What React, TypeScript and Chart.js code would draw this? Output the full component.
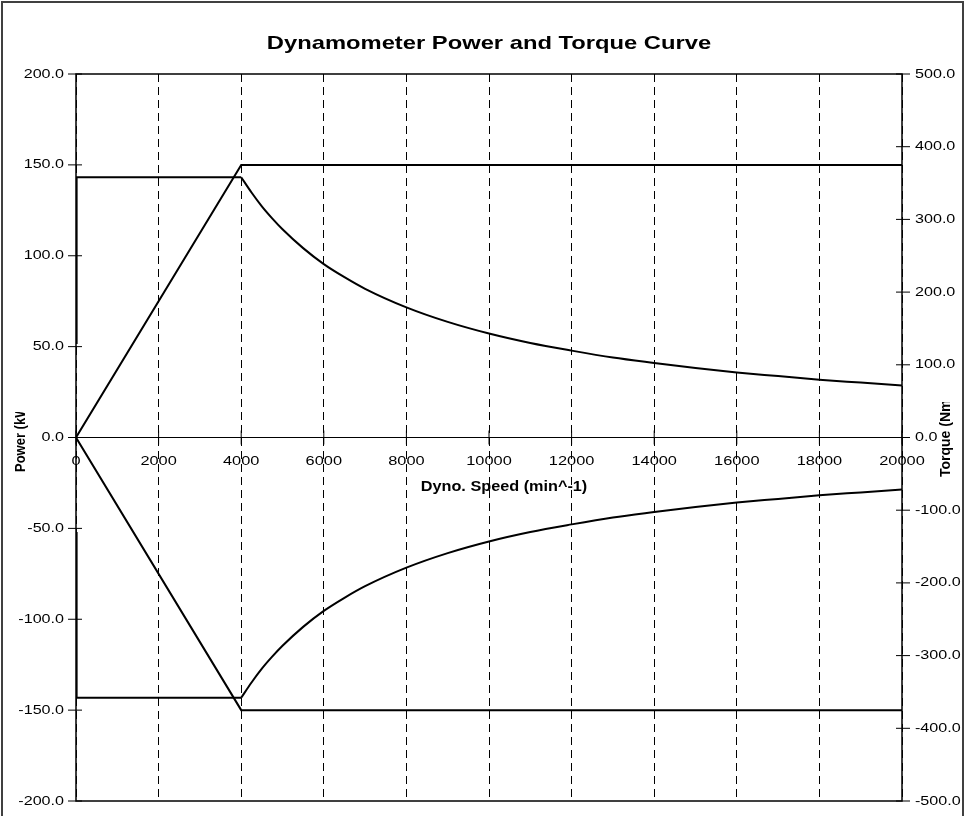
import { useEffect, useRef } from "react";
import { Chart, registerables } from "chart.js";

Chart.register(...registerables);

// ---- tick labels ----
const speedTicks = [0, 2000, 4000, 6000, 8000, 10000, 12000, 14000, 16000, 18000, 20000];
const powerTicks = [-200, -150, -100, -50, 0, 50, 100, 150, 200];
const torqueTicks = [-500, -400, -300, -200, -100, 0, 100, 200, 300, 400, 500];

// ---- power (kW) vs dyno speed (min^-1) ----
const powerRpm = [0, 4000, 20000];
const powerUpKw = [0, 150, 150];
const powerDownKw = [0, -150, -150];

// ---- torque (Nm), constant region ----
const torqueFlatRpm = [0, 15, 4000];
const torqueFlatUpNm = [130, 358, 358];
const torqueFlatDownNm = [-130, -358, -358];

// ---- torque (Nm), constant-power region ----
const torqueCurveRpm = [4000, 4250, 4500, 4750, 5000, 5500, 6000, 6500, 7000, 8000, 9000, 10000, 11000, 12000, 13000, 14000, 15000, 16000, 17000, 18000, 19000, 20000];
const torqueCurveUpNm = [358, 337, 318, 301.5, 286.5, 260.5, 238.5, 220.5, 204.5, 179, 159, 143, 130, 119.5, 110, 102.5, 95.5, 89.5, 84.5, 79.5, 75.5, 71.5];
const torqueCurveDownNm = [-358, -337, -318, -301.5, -286.5, -260.5, -238.5, -220.5, -204.5, -179, -159, -143, -130, -119.5, -110, -102.5, -95.5, -89.5, -84.5, -79.5, -75.5, -71.5];

const TITLE = "Dynamometer Power and Torque Curve";
const X_TITLE = "Dyno. Speed (min^-1)";
const Y_TITLE = "Power (kW";
const Y2_TITLE = "Torque (Nm";

const FONT = "'Liberation Sans', Arial, sans-serif";

function pts(xs: number[], ys: number[]) {
  return xs.map((x, i) => ({ x, y: ys[i] }));
}

function stretchText(
  ctx: CanvasRenderingContext2D,
  s: string,
  x: number,
  y: number,
  font: string,
  align: CanvasTextAlign,
  sx: number,
  baseline: CanvasTextBaseline = "middle"
) {
  ctx.save();
  ctx.translate(x, y);
  ctx.scale(sx, 1);
  ctx.font = font;
  ctx.textAlign = align;
  ctx.textBaseline = baseline;
  ctx.fillStyle = "#000";
  ctx.fillText(s, 0, 0);
  ctx.restore();
}

function rotatedText(
  ctx: CanvasRenderingContext2D,
  s: string,
  x: number,
  y: number,
  font: string,
  clipTop: number,
  stretch: number
) {
  ctx.save();
  ctx.beginPath();
  ctx.rect(x - 30, clipTop, 60, 816 - clipTop);
  ctx.clip();
  ctx.translate(x, y);
  ctx.rotate(-Math.PI / 2);
  ctx.scale(1, stretch);
  ctx.font = font;
  ctx.textAlign = "left";
  ctx.textBaseline = "middle";
  ctx.fillStyle = "#000";
  ctx.fillText(s, 0, 0);
  ctx.restore();
}

const deco = {
  id: "deco",
  beforeDraw(chart: any) {
    const ctx = chart.ctx as CanvasRenderingContext2D;
    ctx.save();
    ctx.fillStyle = "#fff";
    ctx.fillRect(0, 0, chart.width, chart.height);
    ctx.restore();
  },
  afterDraw(chart: any) {
    const ctx = chart.ctx as CanvasRenderingContext2D;
    const a = chart.chartArea;
    const xs = chart.scales.x;
    const ys = chart.scales.y;
    const y2s = chart.scales.y2;
    const line = (x1: number, y1: number, x2: number, y2: number) => {
      ctx.beginPath();
      ctx.moveTo(x1, y1);
      ctx.lineTo(x2, y2);
      ctx.stroke();
    };
    ctx.save();
    ctx.strokeStyle = "#000";
    ctx.setLineDash([]);
    // plot frame
    ctx.lineWidth = 1.5;
    ctx.strokeRect(a.left, a.top, a.right - a.left, a.bottom - a.top);
    // zero axis
    const y0 = ys.getPixelForValue(0);
    ctx.lineWidth = 1.2;
    line(a.left, y0, a.right, y0);
    // tick marks
    ctx.lineWidth = 1;
    powerTicks.forEach((v) => {
      const py = ys.getPixelForValue(v);
      line(a.left - 8, py, a.left + 6, py);
    });
    torqueTicks.forEach((v) => {
      const py = y2s.getPixelForValue(v);
      line(a.right - 6, py, a.right + 8, py);
    });
    speedTicks.forEach((v) => {
      const px = xs.getPixelForValue(v);
      line(px, y0 - 7, px, y0 + 7);
    });
    // tick labels
    const tickFont = `13px ${FONT}`;
    powerTicks.forEach((v) => {
      stretchText(ctx, v.toFixed(1), a.left - 12, ys.getPixelForValue(v), tickFont, "right", 1.24);
    });
    torqueTicks.forEach((v) => {
      stretchText(ctx, v.toFixed(1), a.right + 13, y2s.getPixelForValue(v), tickFont, "left", 1.24);
    });
    speedTicks.forEach((v) => {
      stretchText(ctx, String(v), xs.getPixelForValue(v), y0 + 24, tickFont, "center", 1.26);
    });
    // titles
    stretchText(ctx, TITLE, (a.left + a.right) / 2, 49, `bold 19px ${FONT}`, "center", 1.25, "alphabetic");
    stretchText(ctx, X_TITLE, 504, 491, `bold 14px ${FONT}`, "center", 1.16, "alphabetic");
    // rotated axis titles (clipped like the original)
    rotatedText(ctx, Y_TITLE, 21, 472, `bold 13px ${FONT}`, 412, 1.1);
    rotatedText(ctx, Y2_TITLE, 946, 477, `bold 14px ${FONT}`, 402, 1.05);

    // outer chart border
    ctx.strokeStyle = "#404040";
    ctx.lineWidth = 2;
    ctx.strokeRect(2, 2, 961, 820);
    ctx.restore();
  },
};

export default function App() {
  const ref = useRef<HTMLCanvasElement | null>(null);

  useEffect(() => {
    if (!ref.current) return;
    const base = {
      borderColor: "#000",
      borderWidth: 2,
      pointRadius: 0,
      fill: false,
      tension: 0,
    };
    const chart = new Chart(ref.current, {
      type: "line",
      data: {
        datasets: [
          { ...base, label: "Power +", data: pts(powerRpm, powerUpKw), yAxisID: "y" },
          { ...base, label: "Power -", data: pts(powerRpm, powerDownKw), yAxisID: "y" },
          { ...base, label: "Torque + flat", data: pts(torqueFlatRpm, torqueFlatUpNm), yAxisID: "y2" },
          { ...base, label: "Torque - flat", data: pts(torqueFlatRpm, torqueFlatDownNm), yAxisID: "y2" },
          { ...base, label: "Torque +", data: pts(torqueCurveRpm, torqueCurveUpNm), yAxisID: "y2", cubicInterpolationMode: "monotone" },
          { ...base, label: "Torque -", data: pts(torqueCurveRpm, torqueCurveDownNm), yAxisID: "y2", cubicInterpolationMode: "monotone" },
        ] as any,
      },
      options: {
        animation: false,
        responsive: false,
        layout: { padding: { left: 76, right: 63, top: 74, bottom: 15 } },
        plugins: { legend: { display: false }, tooltip: { enabled: false } },
        scales: {
          x: {
            type: "linear",
            min: 0,
            max: 20000,
            position: { y: 0 } as any,
            afterBuildTicks: (s: any) => {
              s.ticks = speedTicks.map((v) => ({ value: v }));
            },
            ticks: { display: false },
            grid: { color: "#000", lineWidth: 1, drawTicks: false },
            border: { display: false, dash: [8, 5] },
          },
          y: {
            type: "linear",
            position: "left",
            min: -200,
            max: 200,
            display: false,
          },
          y2: {
            type: "linear",
            position: "right",
            min: -500,
            max: 500,
            display: false,
          },
        },
      },
      plugins: [deco],
    });
    return () => chart.destroy();
  }, []);

  return (
    <div style={{ position: "absolute", left: 0, top: 0, width: 965, height: 816 }}>
      <canvas ref={ref} width={965} height={816} />
    </div>
  );
}
